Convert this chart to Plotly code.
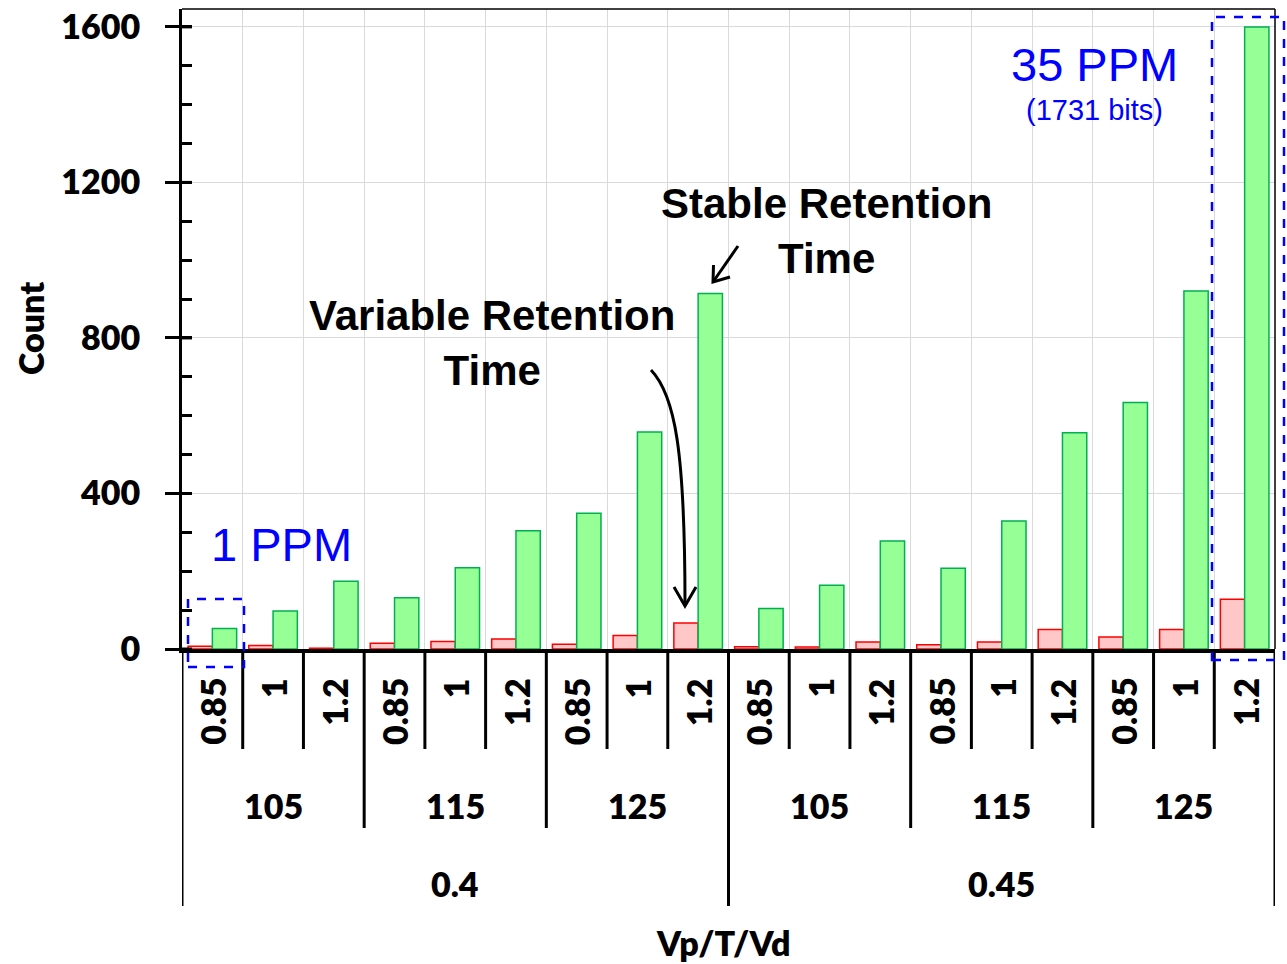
import plotly.graph_objects as go

# Category levels (innermost first): Vd, T, Vp
vd_labels = ["0.85", "1", "1.2"] * 6
t_labels = ["105", "115", "125"] * 2
vp_labels = ["0.4", "0.45"]

# Counts per condition
variable_counts = [7, 9, 2, 15, 19, 26, 12, 35, 67, 6, 5, 18, 11, 18, 50, 31, 50, 128]
stable_counts = [53, 98, 174, 132, 209, 304, 349, 558, 914, 104, 164, 278, 208, 329, 556, 634, 921, 1600]

y_ticks = [0, 400, 800, 1200, 1600]

# Plot-area frame in page pixels, used to place annotations and shapes
X0, X1 = 182, 1275
Y0, Y1 = 649, 9


def px(x):
    return (x - X0) / (X1 - X0)


def py(y):
    return (Y0 - y) / (Y0 - Y1)


n = len(vd_labels)
xs = list(range(n))

fig = go.Figure()
fig.add_bar(
    x=xs, y=variable_counts, name="Variable Retention Time",
    marker=dict(color="#FFC7C7", line=dict(color="#FF0000", width=1.5)),
)
fig.add_bar(
    x=xs, y=stable_counts, name="Stable Retention Time",
    marker=dict(color="#96FF96", line=dict(color="#00B050", width=1.5)),
)

label_font = dict(family="Lato", size=34, color="black", weight=800)

fig.update_layout(
    width=1287, height=964,
    margin=dict(l=X0, r=1287 - X1, t=Y1, b=964 - Y0, autoexpand=False),
    barmode="group", bargap=0.2, bargroupgap=0,
    showlegend=False,
    plot_bgcolor="white", paper_bgcolor="white",
    xaxis=dict(
        range=[-0.5, n - 0.5], showticklabels=False, ticks="",
        tickvals=[i + 0.5 for i in range(n - 1)], automargin=False,
        showgrid=True, gridcolor="#D9D9D9", gridwidth=1,
        showline=True, linecolor="black", linewidth=4, zeroline=False,
    ),
    yaxis=dict(
        range=[0, 1646], tickvals=y_ticks, ticks="outside", ticklen=14,
        tickwidth=3, tickcolor="black", ticklabelstandoff=18, automargin=False,
        tickfont=label_font,
        showgrid=True, gridcolor="#D9D9D9", gridwidth=1,
        showline=True, linecolor="black", linewidth=3, zeroline=False,
        minor=dict(ticks="inside", ticklen=10, tickwidth=3, tickcolor="black",
                   dtick=100, tick0=0, showgrid=False),
    ),
)

shapes = []
# inner half of the major y ticks (they cross the axis)
for v in y_ticks:
    shapes.append(dict(type="line", xref="paper", yref="y", x0=0, x1=px(192),
                       y0=v, y1=v, line=dict(color="black", width=3)))
# thin frame on top and right
shapes.append(dict(type="line", xref="paper", yref="paper", x0=0, x1=1, y0=1, y1=1,
                   line=dict(color="black", width=1.5)))
shapes.append(dict(type="line", xref="paper", yref="paper", x0=1, x1=1, y0=0, y1=1,
                   line=dict(color="black", width=1.5)))

# separators of the hierarchical category axis
for b in range(n + 1):
    if b % 9 == 0:
        bottom = 906
    elif b % 3 == 0:
        bottom = 828
    else:
        bottom = 749
    shapes.append(dict(type="line", xref="x", yref="paper", x0=b - 0.5, x1=b - 0.5,
                       y0=0, y1=py(bottom), line=dict(color="black", width=3)))

# dashed highlight boxes
box = dict(color="#0000FF", width=2.5, dash="dash")
shapes.append(dict(type="rect", xref="paper", yref="paper",
                   x0=px(188), x1=px(244), y0=py(667), y1=py(599), line=box))
shapes.append(dict(type="rect", xref="paper", yref="paper",
                   x0=px(1212), x1=px(1284), y0=py(660), y1=py(17), line=box))

# arrow to the stable-retention bar
arrow = dict(color="black", width=3)
shapes.append(dict(type="path", xref="paper", yref="paper",
                   path=f"M {px(738)},{py(246)} L {px(713)},{py(282)}", line=arrow))
shapes.append(dict(type="path", xref="paper", yref="paper",
                   path=f"M {px(713.5)},{py(265)} L {px(713)},{py(282)} L {px(730)},{py(277)}",
                   line=arrow))
# curved arrow to the variable-retention bar
shapes.append(dict(type="path", xref="paper", yref="paper",
                   path=(f"M {px(651)},{py(370)} C {px(675)},{py(395)} "
                         f"{px(685)},{py(450)} {px(685)},{py(605)}"),
                   line=arrow))
shapes.append(dict(type="path", xref="paper", yref="paper",
                   path=f"M {px(674)},{py(587)} L {px(685)},{py(606)} L {px(696)},{py(587)}",
                   line=arrow))

fig.update_layout(shapes=shapes)

ann = []
# innermost labels (rotated)
for i, lab in enumerate(vd_labels):
    ann.append(dict(x=i, y=py(676), xref="x", yref="paper", text=lab, textangle=-90,
                    showarrow=False, xanchor="center", yanchor="top", font=label_font))
# temperature labels
for j, lab in enumerate(t_labels):
    ann.append(dict(x=3 * j + 1, y=py(805), xref="x", yref="paper", text=lab,
                    showarrow=False, xanchor="center", yanchor="middle", font=label_font))
# Vp labels
for k, lab in enumerate(vp_labels):
    ann.append(dict(x=9 * k + 4, y=py(883), xref="x", yref="paper", text=lab,
                    showarrow=False, xanchor="center", yanchor="middle", font=label_font))

# axis titles
ann.append(dict(x=px(723), y=py(942), xref="paper", yref="paper", text="Vp/T/Vd",
                showarrow=False, xanchor="center", yanchor="middle", font=label_font))
ann.append(dict(x=px(30), y=py(328), xref="paper", yref="paper", text="Count",
                textangle=-90, showarrow=False, xanchor="center", yanchor="middle",
                font=label_font))

callout = dict(family="Liberation Sans", size=42, color="black", weight="bold")
ann.append(dict(x=px(826), y=py(231), xref="paper", yref="paper",
                text="Stable Retention<br>Time", showarrow=False, align="center",
                xanchor="center", yanchor="middle", font=callout))
ann.append(dict(x=px(492), y=py(343), xref="paper", yref="paper",
                text="Variable Retention<br>Time", showarrow=False, align="center",
                xanchor="center", yanchor="middle", font=callout))

blue = "#0000FF"
ann.append(dict(x=px(1094), y=py(64), xref="paper", yref="paper", text="35 PPM",
                showarrow=False, xanchor="center", yanchor="middle",
                font=dict(family="Liberation Sans", size=47, color=blue)))
ann.append(dict(x=px(1094), y=py(110), xref="paper", yref="paper", text="(1731 bits)",
                showarrow=False, xanchor="center", yanchor="middle",
                font=dict(family="Liberation Sans", size=29, color=blue)))
ann.append(dict(x=px(281), y=py(544), xref="paper", yref="paper", text="1 PPM",
                showarrow=False, xanchor="center", yanchor="middle",
                font=dict(family="Liberation Sans", size=47, color=blue)))

fig.update_layout(annotations=ann)

fig.write_html("out.html")
